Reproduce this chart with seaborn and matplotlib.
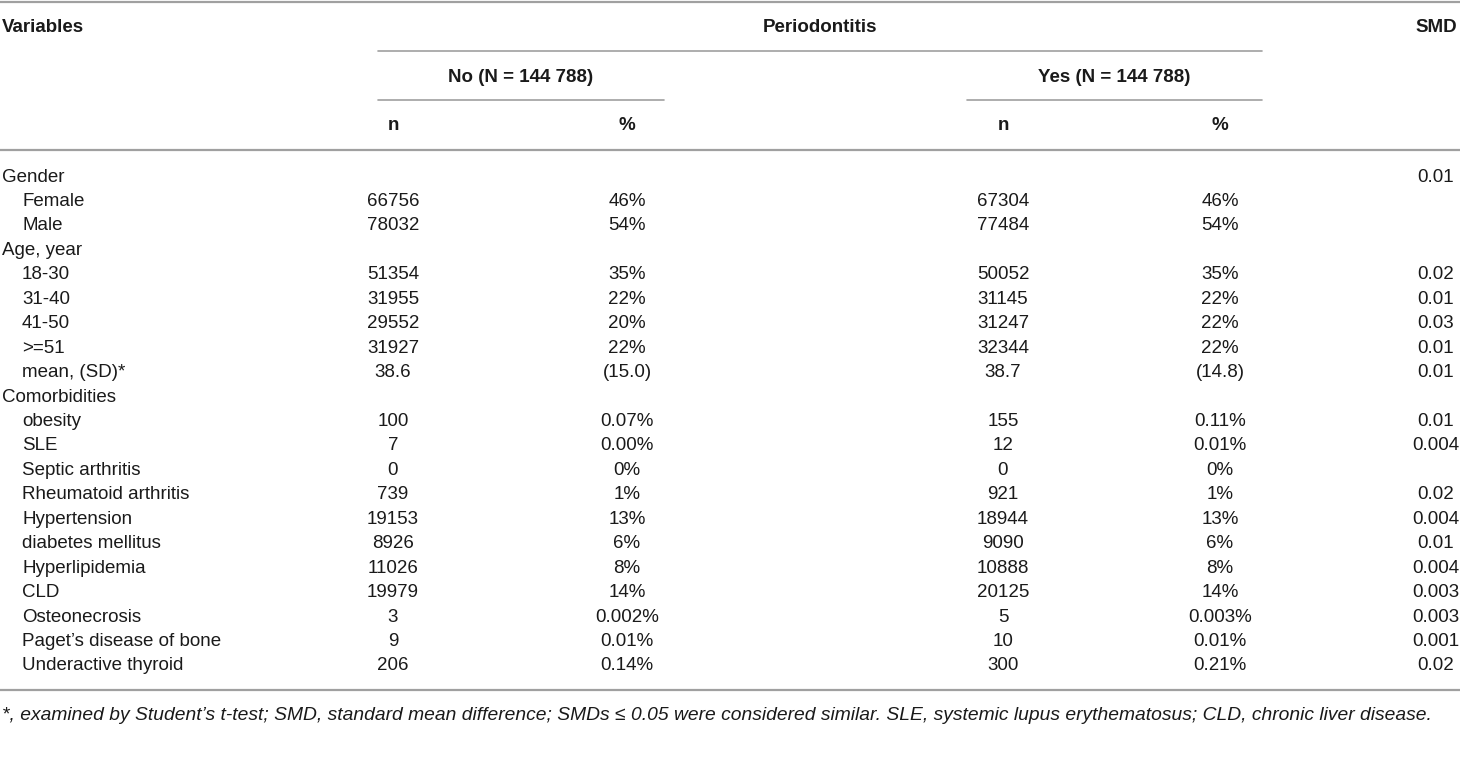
import seaborn as sns
import matplotlib.pyplot as plt
from matplotlib import font_manager

# table values
row_labels = ["Gender", "Female", "Male", "Age, year", "18-30", "31-40", "41-50", ">=51",
              "mean, (SD)*", "Comorbidities", "obesity", "SLE", "Septic arthritis",
              "Rheumatoid arthritis", "Hypertension", "diabetes mellitus", "Hyperlipidemia",
              "CLD", "Osteonecrosis", "Paget\u2019s disease of bone", "Underactive thyroid"]
is_group = [True, False, False, True, False, False, False, False, False, True,
            False, False, False, False, False, False, False, False, False, False, False]
no_n = ["", "66756", "78032", "", "51354", "31955", "29552", "31927", "38.6", "",
        "100", "7", "0", "739", "19153", "8926", "11026", "19979", "3", "9", "206"]
no_pct = ["", "46%", "54%", "", "35%", "22%", "20%", "22%", "(15.0)", "",
          "0.07%", "0.00%", "0%", "1%", "13%", "6%", "8%", "14%", "0.002%", "0.01%", "0.14%"]
yes_n = ["", "67304", "77484", "", "50052", "31145", "31247", "32344", "38.7", "",
         "155", "12", "0", "921", "18944", "9090", "10888", "20125", "5", "10", "300"]
yes_pct = ["", "46%", "54%", "", "35%", "22%", "22%", "22%", "(14.8)", "",
           "0.11%", "0.01%", "0%", "1%", "13%", "6%", "8%", "14%", "0.003%", "0.01%", "0.21%"]
smd = ["0.01", "", "", "", "0.02", "0.01", "0.03", "0.01", "0.01", "",
       "0.01", "0.004", "", "0.02", "0.004", "0.01", "0.004", "0.003", "0.003", "0.001", "0.02"]
footnote = ("*, examined by Student\u2019s t-test; SMD, standard mean difference; SMDs \u2264 0.05 "
            "were considered similar. SLE, systemic lupus erythematosus; CLD, chronic liver disease.")

sns.set_theme(style="white")
installed = {f.name for f in font_manager.fontManager.ttflist}
fam = ["Liberation Sans Narrow"] if "Liberation Sans Narrow" in installed else ["Liberation Sans"]
plt.rcParams['font.family'] = fam + ["DejaVu Sans"]

fig = plt.figure(figsize=(14.6, 7.8), dpi=100)
ax = fig.add_axes([0, 0, 1, 1])
ax.set_xlim(0, 1460)
ax.set_ylim(780, 0)
ax.axis('off')

txt = '#1a1a1a'
line_c = '#a0a0a0'
fs = 13.5

# rules
ax.plot([0, 1460], [1.5, 1.5], color=line_c, lw=1.6)
ax.plot([378, 1262], [51, 51], color=line_c, lw=1.2)
ax.plot([378, 664], [100, 100], color=line_c, lw=1.2)
ax.plot([967, 1262], [100, 100], color=line_c, lw=1.2)
ax.plot([0, 1460], [150, 150], color=line_c, lw=1.6)
ax.plot([0, 1460], [690, 690], color=line_c, lw=1.6)

# headers
hd = dict(fontsize=fs, fontweight='bold', color=txt, va='center')
ax.text(2, 28, "Variables", ha='left', **hd)
ax.text(820, 28, "Periodontitis", ha='center', **hd)
ax.text(1457, 28, "SMD", ha='right', **hd)
ax.text(521, 77, "No (N = 144 788)", ha='center', **hd)
ax.text(1114, 77, "Yes (N = 144 788)", ha='center', **hd)
col_x = [393, 627, 1003, 1220]
for cx, h in zip(col_x, ["n", "%", "n", "%"]):
    ax.text(cx, 126, h, ha='center', **hd)

# body
y0, dy = 177, 24.45
for i, lab in enumerate(row_labels):
    y = y0 + i * dy
    ax.text(2 if is_group[i] else 22, y, lab, ha='left', va='center', fontsize=fs, color=txt)
    for cx, col in zip(col_x, [no_n, no_pct, yes_n, yes_pct]):
        ax.text(cx, y, col[i], ha='center', va='center', fontsize=fs, color=txt)
    ax.text(1436, y, smd[i], ha='center', va='center', fontsize=fs, color=txt)

ax.text(2, 715, footnote, ha='left', va='center', fontsize=13.9, style='italic', color=txt)

fig.savefig("out.png", dpi=100)
